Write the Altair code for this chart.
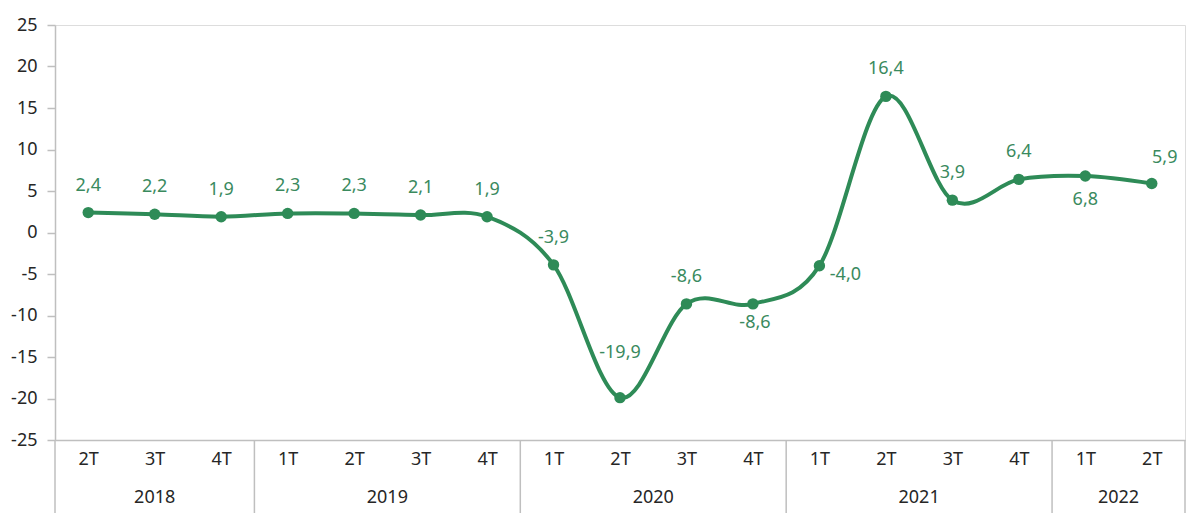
import altair as alt
import pandas as pd

quarters = ["2T", "3T", "4T", "1T", "2T", "3T", "4T", "1T", "2T", "3T", "4T",
            "1T", "2T", "3T", "4T", "1T", "2T"]
years = ["2018", "2018", "2018", "2019", "2019", "2019", "2019", "2020", "2020",
         "2020", "2020", "2021", "2021", "2021", "2021", "2022", "2022"]
values = [2.4, 2.2, 1.9, 2.3, 2.3, 2.1, 1.9, -3.9, -19.9, -8.6, -8.6,
          -4.0, 16.4, 3.9, 6.4, 6.8, 5.9]
year_list = ["2018", "2019", "2020", "2021", "2022"]

df = pd.DataFrame({
    "i": list(range(len(values))),
    "q": quarters,
    "year": years,
    "v": values,
})
df["label"] = [f"{v:.1f}".replace(".", ",") for v in values]

# year groups (derived from the years list)
yr = []
for y in year_list:
    idx = [i for i, yy in enumerate(years) if yy == y]
    yr.append({"year": y, "mid": (idx[0] + idx[-1]) / 2.0,
               "start": idx[0] - 0.5, "end": idx[-1] + 0.5})
ydf = pd.DataFrame(yr)
bounds = sorted(set(list(ydf["start"]) + list(ydf["end"])))
bdf = pd.DataFrame({"b": bounds})

LINE = "#2E8B57"
LABEL = "#3A8A5E"
GRAY = "#BFBFBF"
TXT = "#262626"
FONT = "Noto Sans"
W, H = 1130, 415

qexpr = "[" + ",".join(f"'{q}'" for q in quarters) + "][datum.value]"

xscale = alt.Scale(domain=[-0.5, len(values) - 0.5], nice=False, zero=False)
yscale = alt.Scale(domain=[-25, 25], nice=False)

x_enc = alt.X("i:Q", scale=xscale,
              axis=alt.Axis(values=list(range(len(values))), labelExpr=qexpr,
                            ticks=False, grid=False, domain=True, domainColor=GRAY,
                            domainWidth=1.5, labelFont=FONT, labelFontSize=18,
                            labelColor=TXT, labelPadding=10, title=None,
                            labelFlush=False))
y_enc = alt.Y("v:Q", scale=yscale,
              axis=alt.Axis(values=list(range(-25, 26, 5)), grid=False,
                            domain=True, domainColor=GRAY, domainWidth=1.5,
                            tickColor=GRAY, tickSize=8, tickWidth=1.5,
                            labelFont=FONT, labelFontSize=18, labelColor=TXT,
                            labelPadding=10, labelExpr="datum.value + ''",
                            title=None))

base = alt.Chart(df)

line = base.mark_line(color=LINE, strokeWidth=4, interpolate="cardinal").encode(
    x=x_enc, y=y_enc)
pts = base.mark_point(filled=True, color=LINE, size=130, opacity=1).encode(
    x="i:Q", y="v:Q")

# label placement per point index
offsets = {8: (0, -45), 10: (2, 19), 15: (0, 24), 11: (26, 9), 16: (13, -26)}
default = (0, -27)
groups = {}
for i in range(len(values)):
    groups.setdefault(offsets.get(i, default), []).append(i)

text_layers = []
for (dx, dy), idxs in groups.items():
    text_layers.append(
        base.transform_filter(alt.FieldOneOfPredicate(field="i", oneOf=idxs))
        .mark_text(font=FONT, fontSize=18, color=LABEL, dx=dx, dy=dy,
                   baseline="middle", align="center")
        .encode(x="i:Q", y="v:Q", text="label:N"))

year_txt = alt.Chart(ydf).mark_text(font=FONT, fontSize=18, color=TXT,
                                    baseline="middle").encode(
    x=alt.X("mid:Q", scale=xscale), y=alt.value(H + 58), text="year:N")

seps = alt.Chart(bdf).mark_rule(color=GRAY, strokeWidth=1.5).encode(
    x=alt.X("b:Q", scale=xscale), y=alt.value(H), y2=alt.value(H + 73))

chart = alt.layer(seps, line, pts, *text_layers, year_txt).properties(
    width=W, height=H,
    autosize=alt.AutoSizeParams(type="none"),
    padding={"left": 47, "top": 17, "right": 7, "bottom": 83},
).configure_view(stroke=None).configure(background="white")

chart.save("out.html", embed_options={"renderer": "svg", "actions": False})
